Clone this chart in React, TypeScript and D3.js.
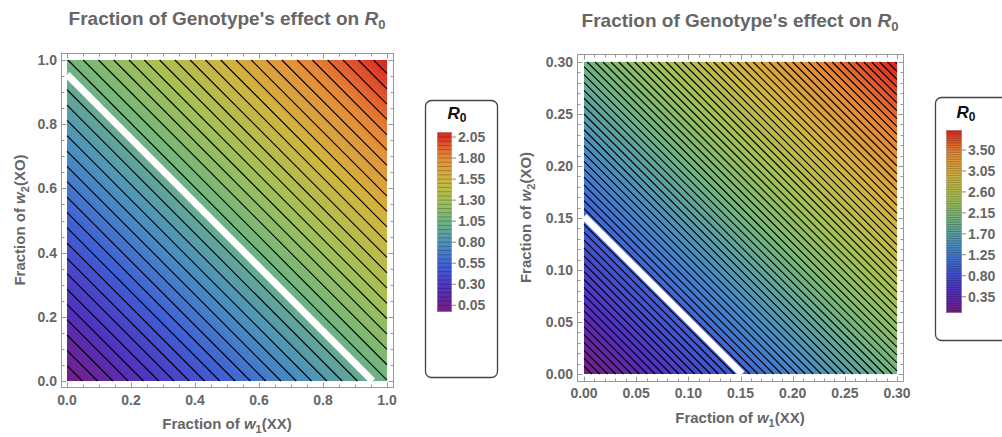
import * as d3 from 'd3';

// Values
const LEFT_MAX = 1.0;
const LEFT_SLOPE = 1.047; // R0 per unit of (w1 + w2); white R0 = 1 line crosses near 0.955
const LEFT_TICKS = [0, 0.2, 0.4, 0.6, 0.8, 1.0];
const LEFT_MINOR = 0.05;
const LEFT_LEGEND_TICKS = [0.05, 0.3, 0.55, 0.8, 1.05, 1.3, 1.55, 1.8, 2.05];
const LEFT_BAR_RANGE = [-0.03, 2.11];

const RIGHT_MAX = 0.3;
const RIGHT_SLOPE = 6.6; // white R0 = 1 line crosses near 0.15
const RIGHT_TICKS = [0, 0.05, 0.1, 0.15, 0.2, 0.25, 0.3];
const RIGHT_MINOR = 0.01;
const RIGHT_LEGEND_TICKS = [0.35, 0.8, 1.25, 1.7, 2.15, 2.6, 3.05, 3.5];
const RIGHT_BAR_RANGE = [0, 3.93];

const CONTOUR_STEP = 0.05;
const THRESHOLD = 1;

const RAINBOW_POS = [0, 0.12, 0.25, 0.37, 0.5, 0.62, 0.74, 0.87, 1];
const RAINBOW = ['#781c86', '#5032be', '#4060d4', '#4a90bf', '#70b480', '#a4c055', '#d0b540', '#e68a37', '#da2323'];

const GRAY = '#666';
const FONT = '"Liberation Sans", Arial, sans-serif';

const rainbow = d3.scaleLinear<string>()
    .domain(RAINBOW_POS)
    .range(RAINBOW)
    .interpolate(d3.interpolateRgb)
    .clamp(true);

type Layout = {
    id: string;
    max: number;
    slope: number;
    ticks: number[];
    minor: number;
    digits: number;
    legendTicks: number[];
    barRange: number[];
    px: [number, number];
    py: [number, number];
    frame: { x0: number; x1: number; y0: number; y1: number };
    titleY: number;
    xLabelY: number;
    yLabelX: number;
    tickLabelY: number;
    box: { x: number; y: number; w: number; h: number };
    bar: { x: number; w: number; y0: number; y1: number };
    ytitle: number;
};

const PANELS: Layout[] = [
    {
        id: 'l', max: LEFT_MAX, slope: LEFT_SLOPE, ticks: LEFT_TICKS, minor: LEFT_MINOR, digits: 1,
        legendTicks: LEFT_LEGEND_TICKS, barRange: LEFT_BAR_RANGE,
        px: [67, 387], py: [381, 60],
        frame: { x0: 61, x1: 393, y0: 53, y1: 387 },
        titleY: 25, xLabelY: 429, yLabelX: 25, tickLabelY: 405,
        box: { x: 425, y: 100, w: 72, h: 277 },
        bar: { x: 437, w: 15, y0: 312, y1: 132 },
        ytitle: 119,
    },
    {
        id: 'r', max: RIGHT_MAX, slope: RIGHT_SLOPE, ticks: RIGHT_TICKS, minor: RIGHT_MINOR, digits: 2,
        legendTicks: RIGHT_LEGEND_TICKS, barRange: RIGHT_BAR_RANGE,
        px: [584, 897], py: [374, 62],
        frame: { x0: 577, x1: 903, y0: 54, y1: 381 },
        titleY: 27, xLabelY: 423, yLabelX: 531, tickLabelY: 398,
        box: { x: 935, y: 97, w: 90, h: 243 },
        bar: { x: 946, w: 16, y0: 313, y1: 130 },
        ytitle: 118,
    },
];

function Panel({ p }: { p: Layout }) {
    const x = d3.scaleLinear().domain([0, p.max]).range(p.px);
    const y = d3.scaleLinear().domain([0, p.max]).range(p.py);
    const vmax = p.slope * 2 * p.max;
    const col = (v: number) => rainbow(v / vmax);

    const levels = d3.range(CONTOUR_STEP, vmax, CONTOUR_STEP).map(v => +v.toFixed(2));

    // iso-line of R0 = v : w1 + w2 = v / slope, clipped to the square
    const seg = (v: number) => {
        const s = v / p.slope;
        if (s <= p.max) return [x(0), y(s), x(s), y(0)];
        return [x(s - p.max), y(p.max), x(p.max), y(s - p.max)];
    };

    const stops = d3.range(0, 41).map(i => i / 40);
    const minors = d3.range(0, p.max + 1e-9, p.minor);
    const f = p.frame;
    const fmt = d3.format(`.${p.digits}f`);

    const bar = d3.scaleLinear().domain(p.barRange).range([p.bar.y0, p.bar.y1]);
    const barLevels = levels.filter(v => v > p.barRange[0] && v < p.barRange[1]);
    const cx = (f.x0 + f.x1) / 2;
    const cy = (f.y0 + f.y1) / 2;

    return (
        <g>
            <defs>
                <linearGradient id={`fill-${p.id}`} gradientUnits="userSpaceOnUse"
                    x1={x(0)} y1={y(0)} x2={x(p.max)} y2={y(p.max)}>
                    {stops.map(t => <stop key={t} offset={t} stopColor={col(vmax * t)} />)}
                </linearGradient>
                <linearGradient id={`bar-${p.id}`} gradientUnits="userSpaceOnUse"
                    x1={0} y1={p.bar.y0} x2={0} y2={p.bar.y1}>
                    {stops.map(t => {
                        const v = p.barRange[0] + t * (p.barRange[1] - p.barRange[0]);
                        return <stop key={t} offset={t} stopColor={col(v)} />;
                    })}
                </linearGradient>
            </defs>

            {/* title */}
            <text x={cx} y={p.titleY} textAnchor="middle" fontFamily={FONT} fontWeight="bold"
                fontSize={19} fill={GRAY}>
                Fraction of Genotype's effect on <tspan fontStyle="italic">R</tspan>
                <tspan fontSize={13} dy={4}>0</tspan>
            </text>

            {/* field */}
            <rect x={x(0)} y={y(p.max)} width={x(p.max) - x(0)} height={y(0) - y(p.max)}
                fill={`url(#fill-${p.id})`} />
            {levels.map(v => {
                const [a, b, c, d] = seg(v);
                return <line key={v} x1={a} y1={b} x2={c} y2={d} stroke="#000" strokeWidth={1.1} />;
            })}
            {(() => {
                const [a, b, c, d] = seg(THRESHOLD);
                return <line x1={a} y1={b} x2={c} y2={d} stroke="#fff" strokeWidth={7} />;
            })()}

            {/* frame */}
            <rect x={f.x0 + 0.5} y={f.y0 + 0.5} width={f.x1 - f.x0} height={f.y1 - f.y0}
                fill="none" stroke="#999" strokeWidth={1} />
            {minors.map(t => {
                const major = p.ticks.some(m => Math.abs(m - t) < 1e-6);
                const len = major ? 5 : 3;
                const xp = Math.round(x(t)) + 0.5;
                const yp = Math.round(y(t)) + 0.5;
                return (
                    <g key={t} stroke="#999" strokeWidth={1}>
                        <line x1={xp} x2={xp} y1={f.y1 + 0.5} y2={f.y1 + 0.5 - len} />
                        <line x1={xp} x2={xp} y1={f.y0 + 0.5} y2={f.y0 + 0.5 + len} />
                        <line y1={yp} y2={yp} x1={f.x0 + 0.5} x2={f.x0 + 0.5 + len} />
                        <line y1={yp} y2={yp} x1={f.x1 + 0.5} x2={f.x1 + 0.5 - len} />
                    </g>
                );
            })}
            {p.ticks.map(t => (
                <g key={t} fontFamily={FONT} fontWeight="bold" fontSize={14} fill={GRAY}>
                    <text x={x(t)} y={p.tickLabelY} textAnchor="middle">{fmt(t)}</text>
                    <text x={f.x0 - 4} y={y(t) + 5} textAnchor="end">{fmt(t)}</text>
                </g>
            ))}

            {/* axis labels */}
            <text x={cx} y={p.xLabelY} textAnchor="middle" fontFamily={FONT} fontWeight="bold"
                fontSize={15} fill={GRAY}>
                Fraction of <tspan fontStyle="italic">w</tspan>
                <tspan fontSize={11} dy={4}>1</tspan><tspan dy={-4}>(XX)</tspan>
            </text>
            <text transform={`translate(${p.yLabelX},${cy}) rotate(-90)`} textAnchor="middle"
                fontFamily={FONT} fontWeight="bold" fontSize={15} fill={GRAY}>
                Fraction of <tspan fontStyle="italic">w</tspan>
                <tspan fontSize={11} dy={4}>2</tspan><tspan dy={-4}>(XO)</tspan>
            </text>

            {/* legend */}
            <rect x={p.box.x + 0.5} y={p.box.y + 0.5} width={p.box.w} height={p.box.h} rx={6}
                fill="#fff" stroke="#444" strokeWidth={1.3} />
            <text x={p.bar.x + 20} y={p.ytitle} textAnchor="middle" fontFamily={FONT}
                fontWeight="bold" fontSize={17} fill="#111">
                <tspan fontStyle="italic">R</tspan><tspan fontSize={12} dy={3}>0</tspan>
            </text>
            <rect x={p.bar.x} y={p.bar.y1} width={p.bar.w} height={p.bar.y0 - p.bar.y1}
                fill={`url(#bar-${p.id})`} />
            {barLevels.map(v => (
                <line key={v} x1={p.bar.x} x2={p.bar.x + p.bar.w} y1={bar(v)} y2={bar(v)}
                    stroke="#000" strokeOpacity={0.3} strokeWidth={0.8} />
            ))}
            <rect x={p.bar.x + 0.5} y={p.bar.y1 + 0.5} width={p.bar.w - 1} height={p.bar.y0 - p.bar.y1 - 1}
                fill="none" stroke="#bbb" strokeOpacity={0.5} strokeWidth={1} />
            {p.legendTicks.map(v => (
                <g key={v}>
                    <line x1={p.bar.x + p.bar.w} x2={p.bar.x + p.bar.w + 4} y1={bar(v)} y2={bar(v)}
                        stroke="#888" strokeWidth={1} />
                    <text x={p.bar.x + p.bar.w + 6} y={bar(v) + 5} fontFamily={FONT} fontWeight="bold"
                        fontSize={14} fill={GRAY}>{v.toFixed(2)}</text>
                </g>
            ))}
        </g>
    );
}

export default function App() {
    return (
        <svg width={1002} height={437} style={{ position: 'absolute', left: 0, top: 0, background: '#fff' }}>
            {PANELS.map(p => <Panel key={p.id} p={p} />)}
        </svg>
    );
}
